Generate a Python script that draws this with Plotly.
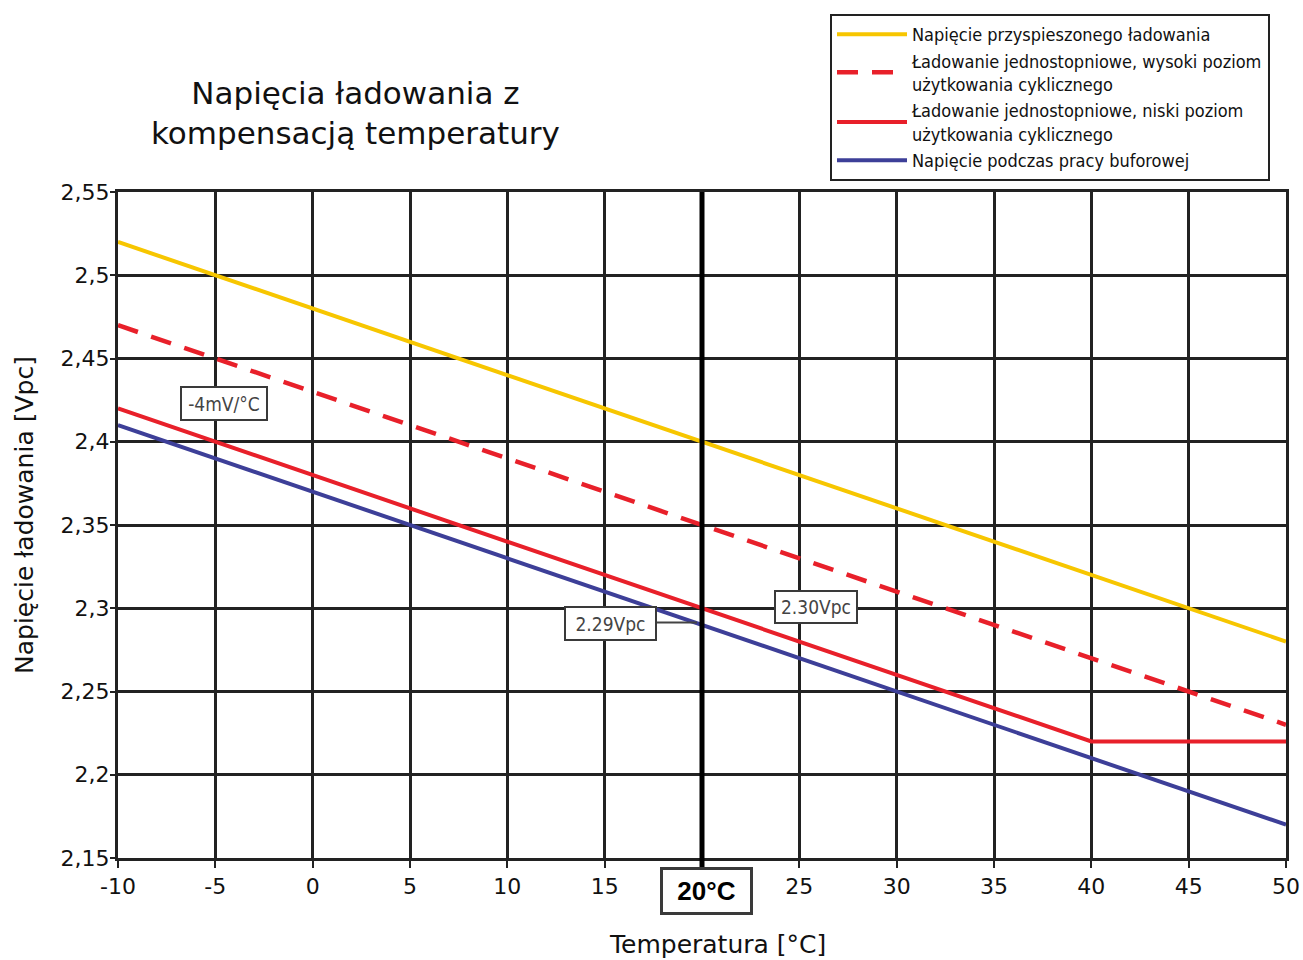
import plotly.graph_objects as go

# ---- data ----
temps = [-10, -5, 0, 5, 10, 15, 20, 25, 30, 35, 40, 45, 50]
boost = [2.52, 2.50, 2.48, 2.46, 2.44, 2.42, 2.40, 2.38, 2.36, 2.34, 2.32, 2.30, 2.28]
high_cyclic = [2.47, 2.45, 2.43, 2.41, 2.39, 2.37, 2.35, 2.33, 2.31, 2.29, 2.27, 2.25, 2.23]
low_cyclic = [2.42, 2.40, 2.38, 2.36, 2.34, 2.32, 2.30, 2.28, 2.26, 2.24, 2.22, 2.22, 2.22]
float_v = [2.41, 2.39, 2.37, 2.35, 2.33, 2.31, 2.29, 2.27, 2.25, 2.23, 2.21, 2.19, 2.17]

names = [
    "Napięcie przyspieszonego ładowania",
    "Ładowanie jednostopniowe, wysoki poziom<br>użytkowania cyklicznego",
    "Ładowanie jednostopniowe, niski poziom<br>użytkowania cyklicznego",
    "Napięcie podczas pracy buforowej",
]

x_ticks = [-10, -5, 0, 5, 10, 15, 20, 25, 30, 35, 40, 45, 50]
x_ticktext = ["-10", "-5", "0", "5", "10", "15", "", "25", "30", "35", "40", "45", "50"]
y_ticks = [2.15, 2.20, 2.25, 2.30, 2.35, 2.40, 2.45, 2.50, 2.55]
y_ticktext = ["2,15", "2,2", "2,25", "2,3", "2,35", "2,4", "2,45", "2,5", "2,55"]

YELLOW = "#F7C600"
RED = "#E8202A"
BLUE = "#3D3F98"
GRID = "#222222"
base_font = "DejaVu Sans, Liberation Sans, sans-serif"
tick_font = "DejaVu Sans, Liberation Sans, sans-serif"
narrow_font = "Liberation Sans Narrow, DejaVu Sans Condensed, Liberation Sans, sans-serif"

fig = go.Figure()
fig.add_trace(go.Scatter(x=temps, y=boost, mode="lines", name=names[0],
                         line=dict(color=YELLOW, width=4)))
fig.add_trace(go.Scatter(x=temps, y=high_cyclic, mode="lines", name=names[1],
                         line=dict(color=RED, width=4.5, dash="21px,14px")))
fig.add_trace(go.Scatter(x=temps, y=low_cyclic, mode="lines", name=names[2],
                         line=dict(color=RED, width=4)))
fig.add_trace(go.Scatter(x=temps, y=float_v, mode="lines", name=names[3],
                         line=dict(color=BLUE, width=4)))

# thick 20°C line
fig.add_shape(type="line", xref="x", yref="paper", x0=20, x1=20, y0=-0.015, y1=1,
              line=dict(color="black", width=5), layer="above")
# leader line for 2.29Vpc
fig.add_shape(type="line", xref="x", yref="y", x0=17.68, x1=19.74, y0=2.2915, y1=2.2915,
              line=dict(color="#444444", width=2), layer="above")

box_common = dict(showarrow=False, bgcolor="white", bordercolor="#3a3a3a", borderwidth=2,
                  font=dict(family=narrow_font, size=19, color="#444444"))
fig.add_annotation(x=-4.56, y=2.423, text="-4mV/°C", width=82, height=29, borderpad=1,
                   xref="x", yref="y", **box_common)
fig.add_annotation(x=15.32, y=2.291, text="2.29Vpc", width=87, height=29, borderpad=1,
                   xref="x", yref="y", **box_common)
fig.add_annotation(x=25.85, y=2.3006, text="2.30Vpc", width=78, height=28, borderpad=1,
                   xref="x", yref="y", **box_common)
# 20°C box
fig.add_annotation(x=20, y=-0.0495, xref="x", yref="paper", text="<b>20°C</b>",
                   showarrow=False, bgcolor="white", bordercolor="#3a3a3a", borderwidth=3,
                   width=85, height=40, borderpad=1, xshift=4,
                   xanchor="center", yanchor="middle",
                   font=dict(family="Liberation Sans, Arial, sans-serif", size=26, color="black"))

# title
fig.add_annotation(x=0.203, y=1.119, xref="paper", yref="paper",
                   text="Napięcia ładowania z<br>kompensacją temperatury",
                   showarrow=False, xanchor="center", yanchor="middle",
                   font=dict(family=base_font, size=31, color="#111111"))
# axis titles
fig.add_annotation(x=-0.0805, y=0.515, xref="paper", yref="paper",
                   text="Napięcie ładowania [Vpc]", textangle=-90, showarrow=False,
                   xanchor="center", yanchor="middle",
                   font=dict(family=base_font, size=25, color="#111111"))
fig.add_annotation(x=0.513, y=-0.1306, xref="paper", yref="paper",
                   text="Temperatura [°C]", showarrow=False,
                   xanchor="center", yanchor="middle",
                   font=dict(family=base_font, size=25, color="#111111"))

fig.update_layout(
    width=1303, height=960,
    margin=dict(l=118, r=17, t=192, b=102, autoexpand=False),
    paper_bgcolor="white", plot_bgcolor="white",
    font=dict(family=tick_font, size=22, color="#111111"),
    showlegend=True,
    legend=dict(x=830 / 1303, y=1 - 14 / 960, xref="container", yref="container",
                xanchor="left", yanchor="top",
                bordercolor="#222222", borderwidth=2, bgcolor="white",
                font=dict(family=narrow_font, size=18, color="#111111"),
                tracegroupgap=0, itemwidth=70),
)
fig.update_xaxes(range=[-10, 50], tickmode="array", tickvals=x_ticks, ticktext=x_ticktext,
                 showgrid=True, gridcolor=GRID, gridwidth=3,
                 showline=True, linecolor=GRID, linewidth=3, mirror=True,
                 ticks="outside", ticklen=7, tickwidth=2, tickcolor=GRID,
                 zeroline=False, tickfont=dict(family=tick_font, size=22))
fig.update_yaxes(range=[2.15, 2.55], tickmode="array", tickvals=y_ticks, ticktext=y_ticktext,
                 showgrid=True, gridcolor=GRID, gridwidth=3,
                 showline=True, linecolor=GRID, linewidth=3, mirror=True,
                 ticks="outside", ticklen=5, tickwidth=2, tickcolor=GRID,
                 ticklabelstandoff=-4,
                 zeroline=False, tickfont=dict(family=tick_font, size=22))

fig.write_html("out.html", config={"displayModeBar": False},
               post_script="document.body.style.margin='0px';document.body.style.overflow='hidden';")
